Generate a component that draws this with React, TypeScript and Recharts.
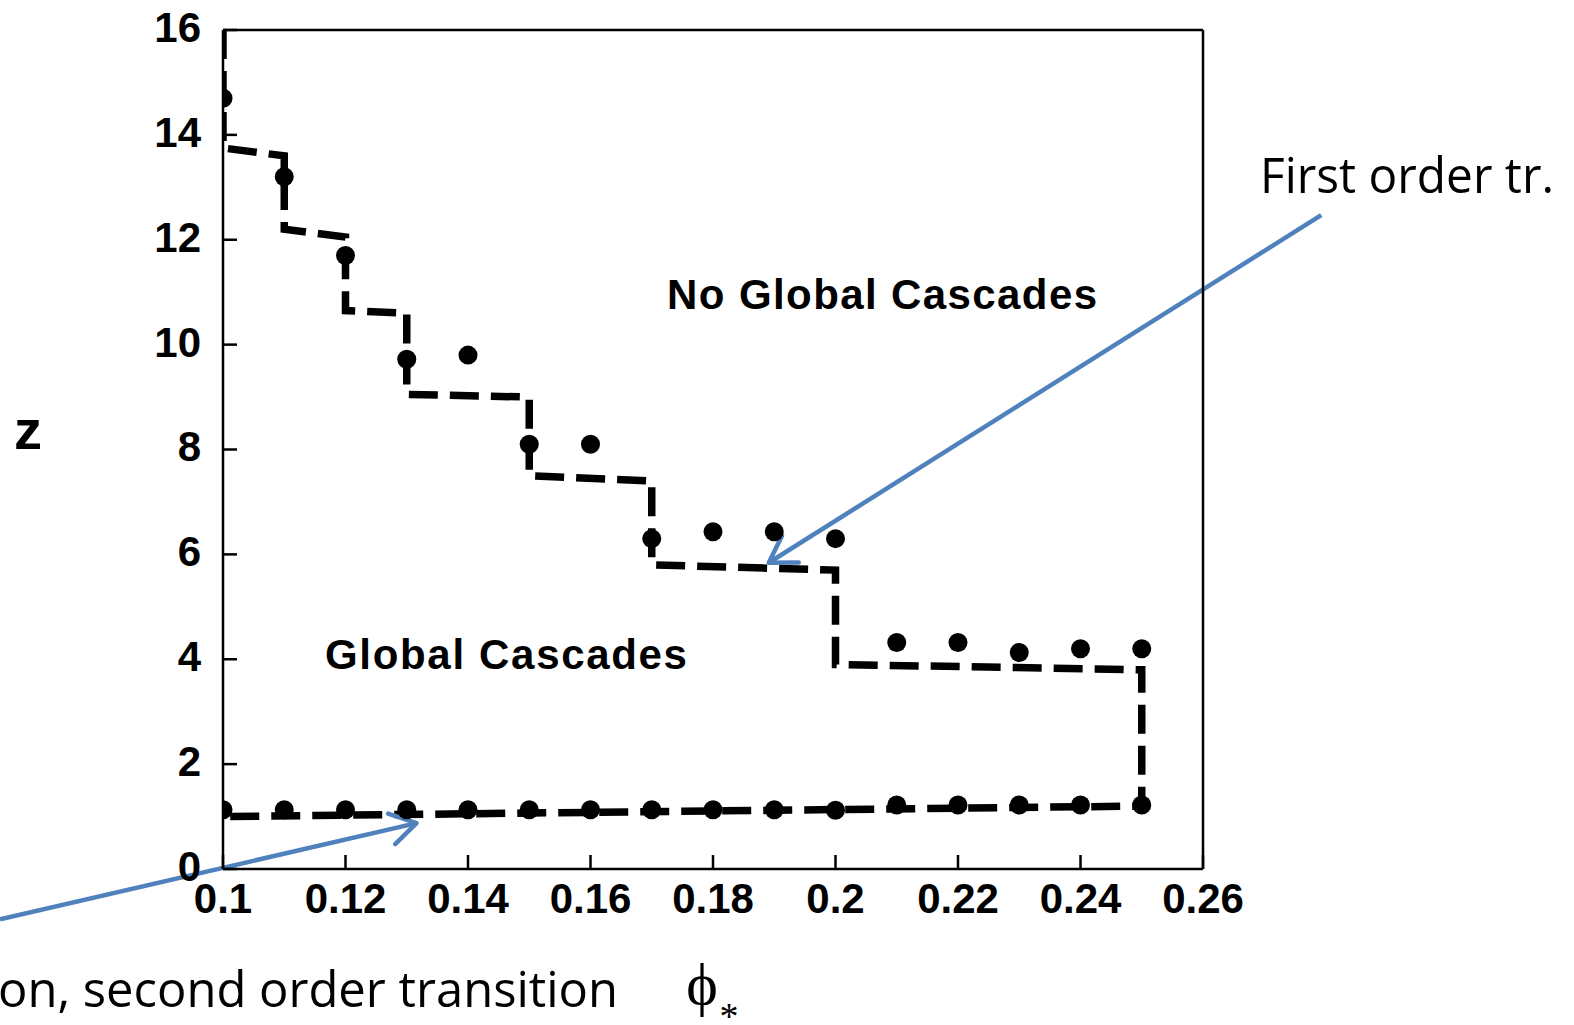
import React from "react";
import {
  ComposedChart,
  Line,
  Scatter,
  XAxis,
  YAxis,
  ReferenceLine,
  ReferenceDot,
} from "recharts";

// axis ticks
const phiTicks = [0.1, 0.12, 0.14, 0.16, 0.18, 0.2, 0.22, 0.24, 0.26];
const zTicks = [0, 2, 4, 6, 8, 10, 12, 14, 16];

// simulated points (dots)
const simPhi = [
  0.1, 0.11, 0.12, 0.13, 0.14, 0.15, 0.16, 0.17, 0.18, 0.19, 0.2, 0.21, 0.22,
  0.23, 0.24, 0.25,
];
const upperZ = [
  14.7, 13.2, 11.7, 9.72, 9.8, 8.1, 8.1, 6.3, 6.43, 6.43, 6.3, 4.32, 4.32,
  4.13, 4.2, 4.2,
];
const lowerZ = [
  1.13, 1.13, 1.13, 1.13, 1.13, 1.13, 1.13, 1.13, 1.13, 1.13, 1.12, 1.22,
  1.22, 1.22, 1.22, 1.22,
];

// analytic boundary (dashed), traced in order
const boundaryPhi = [
  0.1, 0.1, 0.11, 0.11, 0.12, 0.12, 0.13, 0.13, 0.15, 0.15, 0.17, 0.17, 0.2,
  0.2, 0.25, 0.25, 0.1,
];
const boundaryZ = [
  16, 13.75, 13.6, 12.2, 12.05, 10.65, 10.6, 9.05, 9.0, 7.5, 7.4, 5.8, 5.7,
  3.9, 3.8, 1.2, 1.0,
];

// annotation arrows: [tailPhi, tailZ, headPhi, headZ]
const firstOrderArrow = [0.2793, 12.47, 0.1891, 5.84];
const secondOrderArrow = [0.0636, -0.96, 0.1316, 0.875];

const W = 1574;
const H = 1025;
const BLUE = "#4F81BD";
const tickFont = {
  fill: "#000",
  fontSize: 42,
  fontWeight: 700,
  fontFamily: "'Liberation Sans', Arial, sans-serif",
};

const renderDot = (p: any) => (
  <circle cx={p.cx} cy={p.cy} r={9.5} fill="#000" />
);

const arrowShape = (p: any) => {
  const { x1, y1, x2, y2 } = p;
  const ang = Math.atan2(y2 - y1, x2 - x1);
  const len = 30;
  const spread = 0.55;
  const ax = x2 - len * Math.cos(ang - spread);
  const ay = y2 - len * Math.sin(ang - spread);
  const bx = x2 - len * Math.cos(ang + spread);
  const by = y2 - len * Math.sin(ang + spread);
  return (
    <g>
      <line x1={x1} y1={y1} x2={x2} y2={y2} stroke={BLUE} strokeWidth={4.5} />
      <polyline
        points={`${ax},${ay} ${x2},${y2} ${bx},${by}`}
        fill="none"
        stroke={BLUE}
        strokeWidth={4.5}
        strokeLinecap="round"
        strokeLinejoin="round"
      />
    </g>
  );
};

const regionLabel = (text: string, width: number) => (props: any) => {
  const vb = props.viewBox || {};
  const cx = (vb.x ?? 0) + (vb.width ?? 0) / 2;
  const cy = (vb.y ?? 0) + (vb.height ?? 0) / 2;
  const fs = 42;
  return (
    <text
      x={cx}
      y={cy + 0.358 * fs}
      textAnchor="middle"
      textLength={width}
      lengthAdjust="spacing"
      style={{
        fontSize: fs,
        fontWeight: 700,
        fontFamily: "'Liberation Sans', Arial, sans-serif",
        fill: "#000",
      }}
    >
      {text}
    </text>
  );
};

export default function App() {
  const upper = simPhi.map((x, i) => ({ x, z: upperZ[i] }));
  const lower = simPhi.map((x, i) => ({ x, z: lowerZ[i] }));
  const boundary = boundaryPhi.map((x, i) => ({ x, z: boundaryZ[i] }));

  return (
    <div
      style={{
        position: "absolute",
        left: 0,
        top: 0,
        width: W,
        height: H,
        background: "#fff",
        overflow: "hidden",
      }}
    >
      <ComposedChart
        width={W}
        height={H}
        margin={{ top: 10, right: 351, bottom: 96, left: 123 }}
      >
        <XAxis
          type="number"
          dataKey="x"
          domain={[0.1, 0.26]}
          allowDataOverflow
          ticks={phiTicks}
          interval={0}
          height={60}
          tickSize={-14}
          tickMargin={28}
          tick={tickFont}
          axisLine={{ stroke: "#000", strokeWidth: 2.5 }}
          tickLine={{ stroke: "#000", strokeWidth: 2.5 }}
        />
        <XAxis
          xAxisId="top"
          orientation="top"
          type="number"
          dataKey="x"
          domain={[0.1, 0.26]}
          allowDataOverflow
          ticks={phiTicks}
          interval={0}
          height={20}
          tickSize={-14}
          tick={false}
          axisLine={{ stroke: "#000", strokeWidth: 2.5 }}
          tickLine={{ stroke: "#000", strokeWidth: 2.5 }}
        />
        <YAxis
          type="number"
          domain={[0, 16]}
          allowDataOverflow
          ticks={zTicks}
          interval={0}
          width={100}
          tickSize={-14}
          tickMargin={36}
          tick={{ ...tickFont, dy: -3 }}
          axisLine={{ stroke: "#000", strokeWidth: 2.5 }}
          tickLine={{ stroke: "#000", strokeWidth: 2.5 }}
        />
        <YAxis
          yAxisId="right"
          orientation="right"
          type="number"
          domain={[0, 16]}
          allowDataOverflow
          ticks={zTicks}
          interval={0}
          width={20}
          tickSize={-14}
          tick={false}
          axisLine={{ stroke: "#000", strokeWidth: 2.5 }}
          tickLine={{ stroke: "#000", strokeWidth: 2.5 }}
        />

        <Line
          data={boundary}
          dataKey="z"
          type="linear"
          stroke="#000"
          strokeWidth={7.5}
          strokeDasharray="29 12"
          dot={false}
          activeDot={false}
          isAnimationActive={false}
        />
        <Scatter
          data={upper}
          dataKey="z"
          shape={renderDot}
          isAnimationActive={false}
        />
        <Scatter
          data={lower}
          dataKey="z"
          shape={renderDot}
          isAnimationActive={false}
        />

        <ReferenceDot
          x={0.2076}
          y={10.96}
          r={0}
          stroke="none"
          fill="none"
          label={{ content: regionLabel("No Global Cascades", 430) }}
        />
        <ReferenceDot
          x={0.1462}
          y={4.1}
          r={0}
          stroke="none"
          fill="none"
          label={{ content: regionLabel("Global Cascades", 362) }}
        />

        <ReferenceLine
          ifOverflow="visible"
          segment={[
            { x: firstOrderArrow[0], y: firstOrderArrow[1] },
            { x: firstOrderArrow[2], y: firstOrderArrow[3] },
          ]}
          shape={arrowShape}
        />
        <ReferenceLine
          ifOverflow="visible"
          segment={[
            { x: secondOrderArrow[0], y: secondOrderArrow[1] },
            { x: secondOrderArrow[2], y: secondOrderArrow[3] },
          ]}
          shape={arrowShape}
        />
      </ComposedChart>

      <svg
        width={W}
        height={H}
        style={{ position: "absolute", left: 0, top: 0, pointerEvents: "none" }}
      >
        <text
          x={28}
          y={449}
          textAnchor="middle"
          style={{
            fontSize: 56,
            fontWeight: 700,
            fontFamily: "'Liberation Sans', Arial, sans-serif",
          }}
        >
          z
        </text>
        <text
          x={1260}
          y={193}
          textLength={294}
          lengthAdjust="spacingAndGlyphs"
          style={{ fontSize: 50, fontFamily: "'Open Sans', sans-serif" }}
        >
          First order tr.
        </text>
        <text
          x={-2}
          y={1007}
          textLength={620}
          lengthAdjust="spacingAndGlyphs"
          style={{ fontSize: 50, fontFamily: "'Open Sans', sans-serif" }}
        >
          on, second order transition
        </text>
        <text
          x={702}
          y={1004}
          textAnchor="middle"
          style={{
            fontSize: 60,
            fontFamily: "'Liberation Serif', 'DejaVu Serif', serif",
          }}
        >
          ϕ
        </text>
        <text
          x={729}
          y={1029}
          textAnchor="middle"
          style={{
            fontSize: 38,
            fontFamily: "'Liberation Serif', 'DejaVu Serif', serif",
          }}
        >
          *
        </text>
      </svg>
    </div>
  );
}
